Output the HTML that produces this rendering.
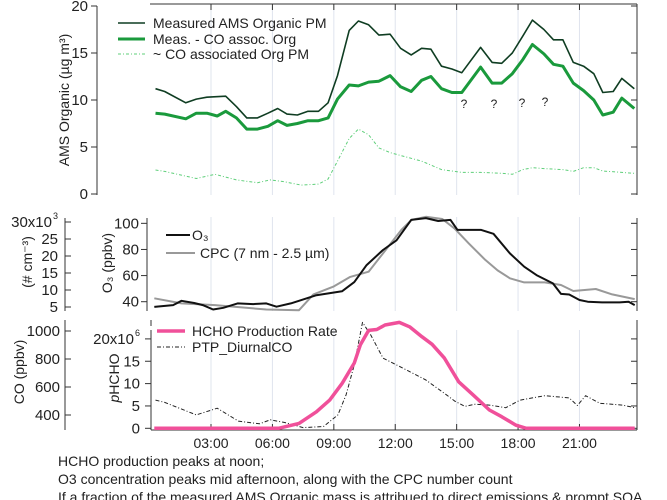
<!DOCTYPE html>
<html><head><meta charset="utf-8"><style>
body{margin:0;background:#fff;}
svg{display:block;font-family:"Liberation Sans",sans-serif;}
</style></head><body>
<svg id="c" width="667" height="500" viewBox="0 0 667 500"></svg>
<script>
// ---- data (hours of day, values) ----
const amsT=[0.29,0.74,1.77,2.28,2.8,3.72,4.24,4.75,5.27,5.78,6.26,6.71,7.22,7.74,8.25,8.72,9.18,9.75,10.2,10.7,11.2,11.75,12.26,12.78,13.29,13.74,14.26,14.77,15.25,16.17,16.73,17.2,17.72,18.23,18.7,19.26,19.73,20.19,20.7,21.2,21.7,22.14,22.65,23.07,23.68];
const amsV=[11.2,10.9,9.7,10.1,10.3,10.4,9.3,8.1,8.1,8.6,9.1,8.5,8.4,8.8,8.8,9.7,12.6,17.4,18.4,18.0,16.9,17.0,15.5,14.8,15.5,15.4,13.6,13.3,12.9,15.6,14.0,13.9,15.0,16.8,18.5,17.5,16.4,16.4,14.0,13.6,12.8,10.8,10.9,12.3,11.2];
const coRemT=[0.29,0.74,1.77,2.28,2.8,3.3,3.72,4.24,4.75,5.27,5.78,6.26,6.71,7.22,7.74,8.25,8.72,9.18,9.75,10.2,10.7,11.2,11.75,12.26,12.78,13.29,13.74,14.26,14.77,15.25,16.17,16.73,17.2,17.72,18.23,18.7,19.26,19.73,20.19,20.7,21.2,21.7,22.14,22.65,23.07,23.68];
const coRemV=[8.6,8.5,8.0,8.6,8.6,8.3,8.8,8.1,6.9,6.9,7.2,7.8,7.3,7.5,7.8,7.8,8.1,10.1,11.6,11.5,11.9,12.0,12.6,11.4,10.9,12.1,12.5,11.2,10.8,10.8,13.5,11.8,11.8,12.8,14.3,15.9,14.9,13.8,13.6,11.8,11.0,10.0,8.4,8.7,10.2,9.1];
const coOrgT=[0.29,0.74,2.28,3.2,4.24,5.27,5.9,6.6,7.4,8.25,8.72,9.18,9.75,10.2,10.7,11.2,11.75,12.26,13.29,14.26,14.77,15.25,16.17,17.2,17.72,18.23,18.7,19.26,20.19,20.7,21.2,21.7,22.14,23.07,23.68];
const coOrgV=[2.55,2.4,1.65,2.1,1.5,1.2,1.5,1.3,0.95,1.05,1.6,3.5,5.9,6.9,6.3,4.9,4.4,4.1,3.5,2.6,2.45,2.3,2.3,2.2,2.1,2.6,2.8,2.7,2.6,2.4,2.8,2.8,2.45,2.3,2.2];
const o3T=[0.23,1.15,1.56,2.18,2.6,3.1,3.6,4.3,5.06,5.7,6.2,6.9,7.3,8.15,9.4,10.0,10.6,11.4,12.06,12.78,13.5,14.1,14.7,15.04,16.2,16.8,17.6,18.3,18.9,19.7,20.1,20.5,21.0,21.4,22.1,22.96,23.4,23.7];
const o3V=[36,37.4,40.7,39,37.4,34,35.3,38.7,38.2,38.7,36.2,38.7,40.7,45,48,55,68,79.6,87,102.6,104,101.8,102.6,95,95,92,77,66.8,60.4,54,46,45.5,41.3,40,39.5,39.5,40,37.4];
const cpcT=[0.23,1.56,3.2,4.5,5.7,7.3,8.0,8.97,9.8,10.7,11.4,12.3,12.8,13.5,14.3,14.9,15.6,16.4,17.0,17.6,18.3,19.3,20.1,20.7,21.8,22.6,23.7];
const cpcV=[42.6,38.7,37.4,35.6,34,33.5,45.6,51.5,59,63,77,95,102.6,105,103.3,96,84.5,72,64,57.9,54.8,54.8,52.8,48.2,49.7,45.6,42];
const hchoT=[0.23,6.3,7.3,8.15,8.8,9.4,10.0,10.3,10.7,11.1,11.5,12.2,12.7,13.3,13.8,14.4,15.1,15.8,16.6,17.2,17.9,18.4,23.7];
const hchoV=[0,0,1.1,3.7,6.3,10,14.6,18.7,21.9,22.1,23.1,23.7,22.7,20.5,18.8,15.7,10.4,7.5,4.1,2.6,0.7,0,0];
const ptpT=[0.29,0.74,2.28,3.3,4.34,5.37,5.9,6.6,7.5,8.5,9.2,9.6,10.0,10.4,10.8,11.4,12.4,13.5,14.5,14.9,15.4,15.9,16.6,17.4,18.1,19.3,20.5,20.9,21.3,22.0,23.1,23.7];
const ptpV=[6.3,5.8,3.0,4.5,1.6,1.0,1.9,1.3,0.15,0.4,3.0,7.5,14.2,23.7,20.9,15.7,13.4,10.8,7.5,6.1,4.9,5.4,5.2,4.6,6.3,7.3,6.8,5.1,7.3,5.6,5.2,4.6];
const xTicks=[3,6,9,12,15,18,21];
const xTickLabels=["03:00","06:00","09:00","12:00","15:00","18:00","21:00"];
const amsTicks=[0,5,10,15,20];
const o3Ticks=[40,60,80,100];
const cpcTicks=[5,10,15,20,25];
const hchoTicks=[0,5,10,15];
const coTicks=[400,600,800,1000];

const X=h=>149.6+h*20.47;
const Ya=v=>194-v*9.4;
const Yo=v=>301.7-(v-40)*1.306;
const Yh=v=>428.3-v*4.47;
const Yc=v=>307-(v-5)*3.4;
const Yco=v=>415-(v-400)*0.14;
const svg=document.getElementById('c');
const NS='http://www.w3.org/2000/svg';
function mk(t,a,name,txt){const e=document.createElementNS(NS,t);for(const k in a)e.setAttribute(k,a[k]);


if(txt!==undefined)e.textContent=txt;svg.appendChild(e);return e;}
function line(x1,y1,x2,y2,s,w,name,d){const a={x1,y1,x2,y2,stroke:s,'stroke-width':w};if(d)a['stroke-dasharray']=d;return mk('line',a,name);}
function path(T,V,Y,s,w,name,d){let p='';T.forEach((t,i)=>{p+=(i?'L':'M')+X(t).toFixed(1)+','+Y(V[i]).toFixed(1);});const a={d:p,fill:'none',stroke:s,'stroke-width':w,'stroke-linejoin':'round'};if(d)a['stroke-dasharray']=d;return mk('path',a,name);}
function txt(x,y,s,str,name,anchor,size,rot){const a={x,y,'font-size':size||14,fill:'#222','text-anchor':anchor||'start'};if(rot)a.transform='rotate(-90 '+x+' '+y+')';return mk('text',a,name,str);}

// grid lines
xTicks.forEach(h=>{[[6,195],[217,311],[330,430]].forEach(r=>line(X(h),r[0],X(h),r[1],'#dfe4ee',1,'grid-line'));});

// ---- top panel ----
line(97,6,97,195,'#333',1,'ams-y-axis');
amsTicks.forEach(v=>{line(91,Ya(v),97,Ya(v),'#333',1,'ams-y-tick');line(631,Ya(v),637,Ya(v),'#333',1,'ams-right-tick');txt(88,Ya(v)+5,'#222',String(v),'ams-y-tick-label','end',15);});
line(150,4,637,4,'#333',1,'top-frame');
line(637,4,637,195,'#333',1,'ams-right-axis');
xTicks.forEach(h=>line(X(h),4,X(h),10,'#333',1,'top-x-tick'));
txt(69,100,'#222','AMS Organic  (µg m³)','ams-y-axis-title','middle',14,true);
path(coOrgT,coOrgV,Ya,'#5fcf7a',1,'series-co-assoc-org','3,2,1,2');
path(coRemT,coRemV,Ya,'#1a9a3c',3,'series-meas-minus-co');
path(amsT,amsV,Ya,'#0f3d22',1.6,'series-measured-ams');
line(118,23,145,23,'#0f3d22',1.6,'legend-line-ams');txt(153,28,'#222','Measured AMS Organic PM','legend-ams','start',14);
line(118,39,145,39,'#1a9a3c',3,'legend-line-meas-co');txt(153,44,'#222','Meas. - CO assoc. Org','legend-meas-co','start',14);
line(118,54,145,54,'#5fcf7a',1,'legend-line-co-org','3,2,1,2');txt(153,59,'#222','~ CO associated Org PM','legend-co-org','start',14);
[[464,108],[494,108],[522,107],[545,106]].forEach(p=>txt(p[0],p[1],'#222','?','question-mark','middle',12));

// ---- middle panel ----
line(147,218,147,311,'#333',1,'o3-y-axis');
o3Ticks.forEach(v=>{line(141,Yo(v),147,Yo(v),'#333',1,'o3-y-tick');line(631,Yo(v),637,Yo(v),'#333',1,'o3-right-tick');txt(139,Yo(v)+5,'#222',String(v),'o3-tick-label','end',15);});
line(637,218,637,311,'#333',1,'o3-right-axis');
line(65,218,65,311,'#333',1,'cpc-y-axis');
cpcTicks.forEach(v=>{line(65,Yc(v),71,Yc(v),'#333',1,'cpc-y-tick');txt(58,Yc(v)+5,'#222',String(v),'cpc-tick-label','end',15);});
line(65,Yc(30),71,Yc(30),'#333',1,'cpc-y-tick');txt(52,Yc(30)+5,'#222','30x10','cpc-top-label','end',15);txt(53,Yc(30)-3,'#222','3','cpc-exp','start',9);
txt(32,262,'#222','(# cm⁻³)','cpc-y-axis-title','middle',14,true);
txt(112,263,'#222','O₃ (ppbv)','o3-y-axis-title','middle',14,true);
path(cpcT,cpcV,Yo,'#999',2,'series-cpc');
path(o3T,o3V,Yo,'#111',2,'series-o3');
line(166,235,190,235,'#111',2,'legend-line-o3');txt(192,240,'#222','O₃','legend-o3','start',14);
line(166,253,195,253,'#999',2,'legend-line-cpc');txt(200,258,'#222','CPC (7 nm - 2.5 µm)','legend-cpc','start',14);
[65,151,637].forEach(x=>line(x,320,x,326,'#333',1,'panel-sep-tick'));

// ---- bottom panel ----
line(151,330,151,430,'#333',1,'hcho-y-axis');
hchoTicks.forEach(v=>{line(145,Yh(v),151,Yh(v),'#333',1,'hcho-y-tick');line(631,Yh(v),637,Yh(v),'#333',1,'hcho-right-tick');txt(140,Yh(v)+5,'#222',String(v),'hcho-tick-label','end',15);});
line(145,Yh(20),151,Yh(20),'#333',1,'hcho-y-tick');line(631,Yh(20),637,Yh(20),'#333',1,'hcho-right-tick');
txt(134,Yh(20)+5,'#222','20x10','hcho-top-label','end',15);txt(135,Yh(20)-3,'#222','6','hcho-exp','start',9);
line(637,322,637,430,'#333',1,'hcho-right-axis');
line(65,322,65,430,'#333',1,'co-y-axis');
coTicks.forEach(v=>{line(65,Yco(v),71,Yco(v),'#333',1,'co-y-tick');txt(60,Yco(v)+5,'#222',String(v),'co-tick-label','end',15);});
txt(24,372,'#222','CO  (ppbv)','co-y-axis-title','middle',14,true);
const ph=txt(119,378,'#222','','phcho-y-axis-title','middle',14,true);ph.innerHTML='<tspan font-style="italic">p</tspan>HCHO';
line(151,430,637,430,'#333',1,'x-axis');
xTicks.forEach((h,i)=>{line(X(h),424,X(h),430,'#333',1,'x-tick');txt(X(h),448,'#222',xTickLabels[i],'x-tick-label','middle',14);});
path(ptpT,ptpV,Yh,'#222',1,'series-ptp-diurnal-co','4,2,1,2');
path(hchoT,hchoV,Yh,'#f0509a',3.5,'series-hcho-production');
line(157,331,185,331,'#f0509a',3.5,'legend-line-hcho');txt(192,336,'#222','HCHO Production Rate','legend-hcho','start',14);
line(157,347,185,347,'#222',1,'legend-line-ptp','4,2,1,2');txt(192,352,'#222','PTP_DiurnalCO','legend-ptp','start',14);

// notes
txt(58,466,'#222','HCHO production  peaks at noon;','note-line-1','start',14);
txt(58,484,'#222','O3 concentration peaks mid afternoon, along with the CPC number count','note-line-2','start',14);
txt(58,502,'#222','If a fraction of the measured AMS Organic mass is attribued to direct emissions & prompt SOA','note-line-3','start',14);
</script>
</body></html>
